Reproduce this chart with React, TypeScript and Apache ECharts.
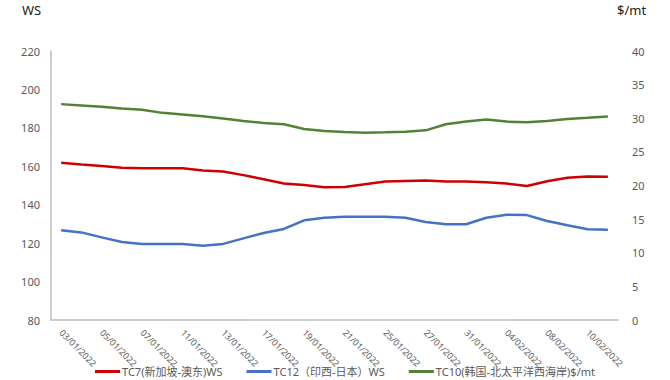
import React, { useEffect, useRef } from "react";
import * as echarts from "echarts";

const categories = [
  "03/01/2022", "04/01/2022", "05/01/2022", "06/01/2022", "07/01/2022",
  "10/01/2022", "11/01/2022", "12/01/2022", "13/01/2022", "14/01/2022",
  "17/01/2022", "18/01/2022", "19/01/2022", "20/01/2022", "21/01/2022",
  "24/01/2022", "25/01/2022", "26/01/2022", "27/01/2022", "28/01/2022",
  "31/01/2022", "01/02/2022", "04/02/2022", "07/02/2022", "08/02/2022",
  "09/02/2022", "10/02/2022", "11/02/2022",
];

const tc7 = [
  161.9, 160.9, 160.2, 159.3, 159.0, 159.0, 159.0, 157.8, 157.3, 155.4,
  153.3, 151.0, 150.2, 149.1, 149.2, 150.7, 152.1, 152.4, 152.6, 152.1,
  152.1, 151.7, 151.0, 149.7, 152.2, 154.0, 154.7, 154.5,
];

const tc12 = [
  126.7, 125.6, 123.0, 120.6, 119.6, 119.6, 119.6, 118.7, 119.6, 122.5,
  125.3, 127.4, 131.9, 133.2, 133.7, 133.8, 133.8, 133.2, 131.0, 129.8,
  129.8, 133.2, 134.8, 134.6, 131.5, 129.3, 127.2, 127.0,
];

const tc10 = [
  32.1, 31.9, 31.7, 31.45, 31.26, 30.8, 30.57, 30.3, 29.97, 29.6,
  29.3, 29.1, 28.4, 28.1, 27.95, 27.85, 27.9, 28.0, 28.2, 29.1,
  29.5, 29.8, 29.5, 29.4, 29.6, 29.9, 30.07, 30.27,
];

const seriesNames = [
  "TC7(新加坡-澳东)WS",
  "TC12（印西-日本）WS",
  "TC10(韩国-北太平洋西海岸)$/mt",
];

const FONT = "'Noto Sans', 'Noto Sans CJK SC', sans-serif";

export default function App() {
  const ref = useRef<HTMLDivElement>(null);

  useEffect(() => {
    document.body.style.margin = "0";
    if (!ref.current) return;
    const chart = echarts.init(ref.current, null, { renderer: "svg" });
    const axisLabel = { color: "#595959", fontSize: 11, fontFamily: FONT };
    chart.setOption({
      animation: false,
      backgroundColor: "#ffffff",
      grid: { left: 51, right: 52, top: 51, bottom: 60, containLabel: false },
      graphic: [
        { type: "text", left: 22, top: 3, style: { text: "WS", fontSize: 13, fill: "#222", fontFamily: FONT } },
        { type: "text", left: 617, top: 3, style: { text: "$/mt", fontSize: 13, fill: "#222", fontFamily: FONT } },
      ],
      legend: {
        top: 364,
        left: 93,
        itemGap: 24,
        itemWidth: 25,
        itemHeight: 3,
        icon: "rect",
        padding: 2,
        textStyle: { color: "#595959", fontSize: 11, fontFamily: FONT, padding: [0, 0, 0, -3] },
        data: seriesNames,
      },
      xAxis: {
        type: "category",
        data: categories,
        boundaryGap: true,
        axisLine: { lineStyle: { color: "#BFBFBF", width: 1.5 } },
        axisTick: { show: false },
        axisLabel: { ...axisLabel, fontSize: 9, rotate: -45, interval: 1, margin: 11 },
      },
      yAxis: [
        {
          type: "value",
          min: 80,
          max: 220,
          interval: 20,
          axisLine: { show: true, lineStyle: { color: "#BFBFBF", width: 1.5 } },
          axisTick: { show: false },
          splitLine: { show: false },
          axisLabel: { ...axisLabel, margin: 11 },
        },
        {
          type: "value",
          min: 0,
          max: 40,
          interval: 5,
          position: "right",
          axisLine: { show: false },
          axisTick: { show: false },
          splitLine: { show: false },
          axisLabel: { ...axisLabel, margin: 14 },
        },
      ],
      series: [
        {
          name: seriesNames[0],
          type: "line",
          data: tc7,
          yAxisIndex: 0,
          symbol: "none",
          color: "#D00000",
          lineStyle: { width: 2.5, color: "#D00000" },
        },
        {
          name: seriesNames[1],
          type: "line",
          data: tc12,
          yAxisIndex: 0,
          symbol: "none",
          color: "#4472C4",
          lineStyle: { width: 2.5, color: "#4472C4" },
        },
        {
          name: seriesNames[2],
          type: "line",
          data: tc10,
          yAxisIndex: 1,
          symbol: "none",
          color: "#548235",
          lineStyle: { width: 2.5, color: "#548235" },
        },
      ],
    });
    return () => chart.dispose();
  }, []);

  return <div ref={ref} style={{ width: 670, height: 380 }} />;
}
